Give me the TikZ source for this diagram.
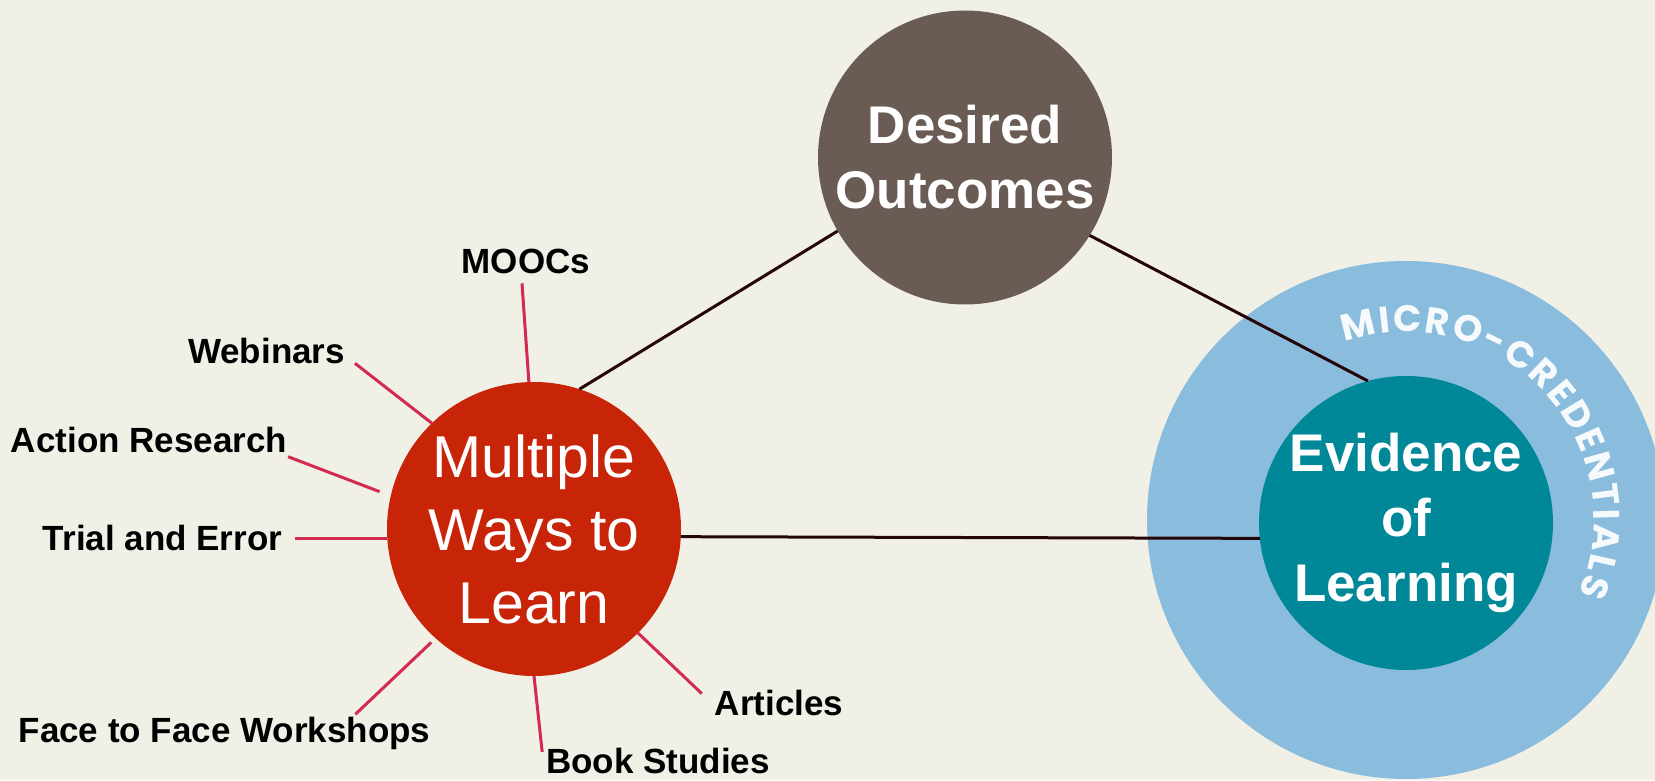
\documentclass[tikz,border=0pt]{standalone}
\usepackage{fontspec}
\setmainfont{Liberation Sans}
\newfontfamily\arcfont{Poppins}
\usetikzlibrary{decorations.text}

\definecolor{paper}{HTML}{F1F0E6}
\definecolor{hubred}{HTML}{C82408}
\definecolor{hubbrown}{HTML}{6A5C54}
\definecolor{hubteal}{HTML}{008899}
\definecolor{ringblue}{HTML}{8ABCDD}
\definecolor{spokered}{HTML}{D42A50}
\definecolor{linkdark}{HTML}{240608}

\begin{document}
\begin{tikzpicture}[x=1pt, y=1pt,
    hub/.style={circle, inner sep=0pt, outer sep=0pt, minimum size=294pt, text=white, align=center},
    tag/.style={inner sep=0pt, outer sep=0pt, anchor=base, font=\fontsize{35}{42}\selectfont\bfseries},
    spoke/.style={draw=spokered, line width=3pt},
    link/.style={draw=linkdark, line width=3pt}]
      \clip (0,0) rectangle (1655,780);
      \fill[paper] (0,0) rectangle (1655,780);

      % ring with the arc text
      \node[circle, fill=ringblue, inner sep=0pt, minimum size=518pt] (cred) at (1406,260) {};
      \path[decorate, decoration={text along path, text align={fit to path},
          text={|\arcfont\bfseries\fontsize{37}{44}\selectfont\color{white!92!ringblue}|MICRO-CREDENTIALS}}]
        ([shift={(109:188)}]cred.center) arc[start angle=109, end angle=-23, radius=188];

      % the three circles
      \node[hub, fill=hubred, font=\fontsize{59}{73}\selectfont] (learn) at (534,251) {Multiple\\Ways to\\Learn};
      \node[hub, fill=hubbrown, font=\fontsize{53}{65}\selectfont\bfseries] (desired) at (965,622.5) {Desired\\Outcomes};
      \node[hub, fill=hubteal, font=\fontsize{53}{65}\selectfont\bfseries] (evidence) at (1406,257) {Evidence\\of\\Learning};

      \draw[link] (learn.72.8) -- (desired.210.9);
      \draw[link] (desired.-32.4) -- (evidence.105.4);
      \draw[link] (learn.-3.7) -- (evidence.186);

      % ways to learn
      \node[tag] (moocs) at (526,506) {MOOCs};
      \node[tag] (webinars) at (266.5,416.7) {Webinars};
      \node[tag] (action) at (149,327.3) {Action Research};
      \node[tag] (trial) at (162.6,229.3) {Trial and Error};
      \node[tag] (face) at (224.5,37.3) {Face to Face Workshops};
      \node[tag] (book) at (658,6.7) {Book Studies};
      \node[tag] (articles) at (779,65) {Articles};

      \draw[spoke] ([shift={(-4,-9)}]moocs.south) -- (learn.92);
      \draw[spoke] ([xshift=10pt]webinars.base east) -- (learn.134);
      \draw[spoke, shorten >=12pt] ([shift={(1,-4)}]action.base east) -- (learn.167);
      \draw[spoke] ([xshift=13pt]trial.east) -- (trial.east -| learn.west);
      \draw[spoke, shorten >=6pt] ([shift={(-75,3)}]face.north east) -- (learn.228);
      \draw[spoke] ([shift={(-4,-4)}]book.north west) -- (learn.270);
      \draw[spoke] ([shift={(-13,-4)}]articles.north west) -- (learn.-45);
    \end{tikzpicture}
\end{document}
